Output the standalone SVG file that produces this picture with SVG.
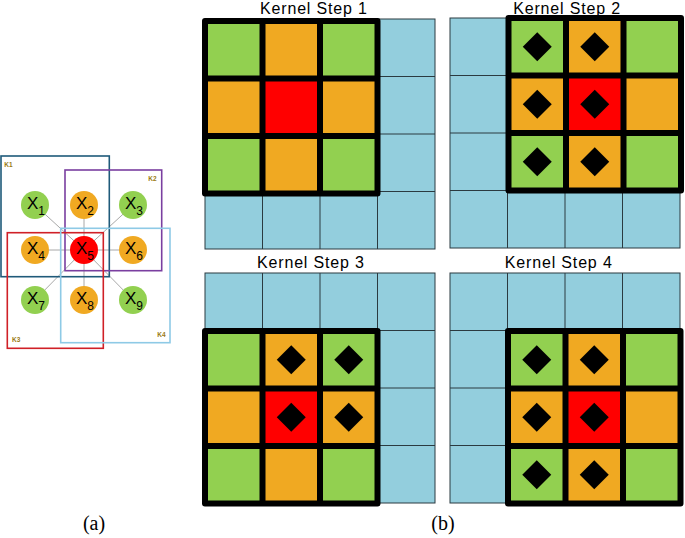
<svg xmlns="http://www.w3.org/2000/svg" width="685" height="538" viewBox="0 0 685 538">
<defs>
<style>
.bg{fill:#ffffff}
.blue{fill:#93cedd;stroke:#2b3a40;stroke-width:1}
.gl{stroke:#2b3a40;stroke-width:1}
.kern{fill:#000;stroke:#000;stroke-width:6;stroke-linejoin:round}
.g{fill:#92d050}
.o{fill:#f0a922}
.r{fill:#ff0000}
.dia{fill:#000}
.title{font-family:"Liberation Sans",Arial,sans-serif;font-size:16px;fill:#000}
.cap{font-family:"Liberation Serif","Times New Roman",serif;font-size:20px;fill:#000}
.xl{font-family:"Liberation Sans",Arial,sans-serif;font-size:17px;fill:#000}
.sub{font-size:12px}
.kl{font-family:"Liberation Sans",Arial,sans-serif;font-size:6.5px;font-weight:bold;fill:#9a7a12}
.conn{stroke:#a8a8a8;stroke-width:1}
.kr{fill:none;stroke-width:1.6}
</style>
<symbol id="grid" overflow="visible">
<rect class="blue" x="0" y="0" width="230" height="230"/>
<path class="gl" d="M57.5 0V230M115 0V230M172.5 0V230M0 57.5H230M0 115H230M0 172.5H230"/>
</symbol>
<symbol id="kernel" overflow="visible">
<rect class="kern" x="0" y="0" width="172.5" height="172.5"/>
<rect class="g" x="3" y="3" width="51.5" height="51.5"/>
<rect class="o" x="60.5" y="3" width="51.5" height="51.5"/>
<rect class="g" x="118" y="3" width="51.5" height="51.5"/>
<rect class="o" x="3" y="60.5" width="51.5" height="51.5"/>
<rect class="r" x="60.5" y="60.5" width="51.5" height="51.5"/>
<rect class="o" x="118" y="60.5" width="51.5" height="51.5"/>
<rect class="g" x="3" y="118" width="51.5" height="51.5"/>
<rect class="o" x="60.5" y="118" width="51.5" height="51.5"/>
<rect class="g" x="118" y="118" width="51.5" height="51.5"/>
</symbol>
<path id="dm" class="dia" d="M0 -14.5L14.5 0L0 14.5L-14.5 0Z"/>
</defs>
<rect class="bg" x="0" y="0" width="685" height="538"/>

<g id="panel-a">
<g id="connectors">
<line class="conn" x1="84" y1="250" x2="35" y2="205"/>
<line class="conn" x1="84" y1="250" x2="84" y2="205"/>
<line class="conn" x1="84" y1="250" x2="133" y2="205"/>
<line class="conn" x1="84" y1="250" x2="35" y2="250"/>
<line class="conn" x1="84" y1="250" x2="133" y2="250"/>
<line class="conn" x1="84" y1="250" x2="35" y2="300"/>
<line class="conn" x1="84" y1="250" x2="84" y2="300"/>
<line class="conn" x1="84" y1="250" x2="133" y2="300"/>
</g>
<g id="x1"><circle class="g" cx="35" cy="205" r="14"/><text class="xl" x="36" y="208.5" text-anchor="middle">X<tspan class="sub" dy="6.5">1</tspan></text></g>
<g id="x2"><circle class="o" cx="84" cy="205" r="14"/><text class="xl" x="85" y="208.5" text-anchor="middle">X<tspan class="sub" dy="6.5">2</tspan></text></g>
<g id="x3"><circle class="g" cx="133" cy="205" r="14"/><text class="xl" x="134" y="208.5" text-anchor="middle">X<tspan class="sub" dy="6.5">3</tspan></text></g>
<g id="x4"><circle class="o" cx="35" cy="250" r="14"/><text class="xl" x="36" y="253.5" text-anchor="middle">X<tspan class="sub" dy="6.5">4</tspan></text></g>
<g id="x5"><circle class="r" cx="84" cy="250" r="14"/><text class="xl" x="85" y="253.5" text-anchor="middle">X<tspan class="sub" dy="6.5">5</tspan></text></g>
<g id="x6"><circle class="o" cx="133" cy="250" r="14"/><text class="xl" x="134" y="253.5" text-anchor="middle">X<tspan class="sub" dy="6.5">6</tspan></text></g>
<g id="x7"><circle class="g" cx="35" cy="300" r="14"/><text class="xl" x="36" y="303.5" text-anchor="middle">X<tspan class="sub" dy="6.5">7</tspan></text></g>
<g id="x8"><circle class="o" cx="84" cy="300" r="14"/><text class="xl" x="85" y="303.5" text-anchor="middle">X<tspan class="sub" dy="6.5">8</tspan></text></g>
<g id="x9"><circle class="g" cx="133" cy="300" r="14"/><text class="xl" x="134" y="303.5" text-anchor="middle">X<tspan class="sub" dy="6.5">9</tspan></text></g>
<g id="k1"><rect class="kr" stroke="#1f5a7a" x="1" y="156" width="108.3" height="120.7"/><text class="kl" x="4.3" y="167.3">K1</text></g>
<g id="k2"><rect class="kr" stroke="#7a3fa0" x="65" y="170" width="96.7" height="100.7"/><text class="kl" x="148.3" y="180.7">K2</text></g>
<g id="k3"><rect class="kr" stroke="#d02027" x="7.3" y="232.7" width="96" height="115.6"/><text class="kl" x="12" y="342.3">K3</text></g>
<g id="k4"><rect class="kr" stroke="#8ecae6" x="60.7" y="228.3" width="109.3" height="114.4"/><text class="kl" x="157.3" y="336.7">K4</text></g>
<text class="cap" x="94" y="530" text-anchor="middle">(a)</text>
</g>

<g id="step1">
<text class="title" x="313.5" y="13.5" text-anchor="middle" textLength="107" lengthAdjust="spacing">Kernel Step 1</text>
<use href="#grid" x="205" y="19"/>
<use href="#kernel" x="205" y="21"/>
</g>

<g id="step2">
<text class="title" x="566.7" y="13.5" text-anchor="middle" textLength="107" lengthAdjust="spacing">Kernel Step 2</text>
<use href="#grid" x="450" y="18"/>
<use href="#kernel" x="508.5" y="18"/>
<use href="#dm" x="537.25" y="46.75"/>
<use href="#dm" x="594.75" y="46.75"/>
<use href="#dm" x="537.25" y="104.25"/>
<use href="#dm" x="594.75" y="104.25"/>
<use href="#dm" x="537.25" y="161.75"/>
<use href="#dm" x="594.75" y="161.75"/>
</g>

<g id="step3">
<text class="title" x="310.5" y="268" text-anchor="middle" textLength="107" lengthAdjust="spacing">Kernel Step 3</text>
<use href="#grid" x="205" y="273"/>
<use href="#kernel" x="205" y="331"/>
<use href="#dm" x="291.25" y="359.75"/>
<use href="#dm" x="348.75" y="359.75"/>
<use href="#dm" x="291.25" y="417.25"/>
<use href="#dm" x="348.75" y="417.25"/>
</g>

<g id="step4">
<text class="title" x="558.3" y="268" text-anchor="middle" textLength="107" lengthAdjust="spacing">Kernel Step 4</text>
<use href="#grid" x="450" y="273"/>
<use href="#kernel" x="508" y="331"/>
<use href="#dm" x="536.75" y="359.75"/>
<use href="#dm" x="594.25" y="359.75"/>
<use href="#dm" x="536.75" y="417.25"/>
<use href="#dm" x="594.25" y="417.25"/>
<use href="#dm" x="536.75" y="474.75"/>
<use href="#dm" x="594.25" y="474.75"/>
</g>

<text class="cap" x="443" y="530" text-anchor="middle">(b)</text>
</svg>
